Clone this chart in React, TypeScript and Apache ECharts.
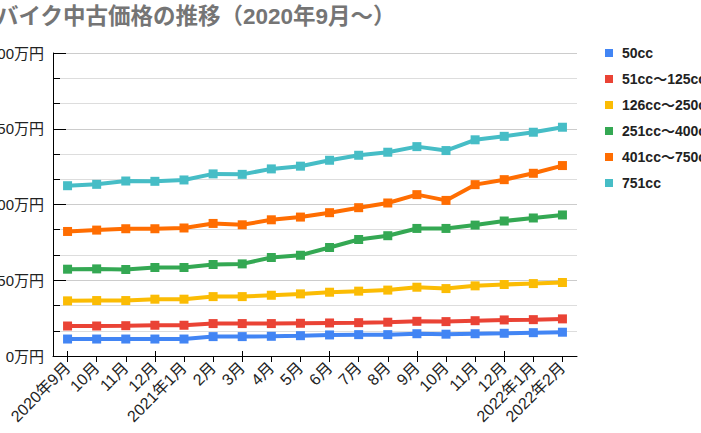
import React, { useEffect, useRef } from "react";
import * as echarts from "echarts";

const categories = [
  "2020年9月", "10月", "11月", "12月", "2021年1月", "2月", "3月", "4月", "5月",
  "6月", "7月", "8月", "9月", "10月", "11月", "12月", "2022年1月", "2022年2月",
];

const seriesNames = ["50cc", "51cc～125cc", "126cc～250cc", "251cc～400cc", "401cc～750cc", "751cc"];
const seriesColors = ["#4285F4", "#EA4335", "#FBBC04", "#34A853", "#FF6D01", "#46BDC6"];

const cc50 = [11.2, 11.2, 11.2, 11.2, 11.2, 12.8, 12.8, 13.0, 13.4, 13.9, 14.1, 14.1, 14.7, 14.4, 14.7, 15.0, 15.4, 15.7];
const cc125 = [19.8, 19.8, 20.0, 20.3, 20.3, 21.4, 21.4, 21.4, 21.6, 21.8, 22.0, 22.3, 22.9, 22.7, 23.3, 23.8, 24.0, 24.5];
const cc250 = [36.4, 36.6, 36.6, 37.5, 37.5, 39.2, 39.2, 40.1, 41.0, 42.1, 42.8, 43.5, 45.4, 44.5, 46.3, 47.2, 47.8, 48.5];
const cc400 = [57.3, 57.5, 57.1, 58.4, 58.4, 60.4, 60.8, 65.0, 66.5, 71.6, 76.9, 79.4, 84.2, 84.2, 86.4, 89.1, 91.1, 93.1];
const cc750 = [82.2, 83.1, 84.0, 84.0, 84.5, 87.5, 86.6, 89.9, 91.7, 94.6, 97.9, 101.0, 106.5, 102.7, 113.1, 116.4, 120.6, 125.7];
const cc751 = [112.4, 113.3, 115.5, 115.3, 116.2, 120.2, 119.9, 123.5, 125.3, 129.2, 132.5, 134.5, 138.2, 135.6, 142.7, 145.0, 147.7, 151.0];

const seriesData = [cc50, cc125, cc250, cc400, cc750, cc751];

const FONT = "'Liberation Sans', Arial, 'Noto Sans CJK JP', sans-serif";

export default function App() {
  const ref = useRef<HTMLDivElement>(null);
  useEffect(() => {
    if (!ref.current) return;
    const chart = echarts.init(ref.current, undefined, { renderer: "svg" });
    chart.setOption({
      animation: false,
      backgroundColor: "#ffffff",
      title: {
        text: "バイク中古価格の推移（2020年9月～）",
        left: -9,
        top: 0,
        textStyle: { fontFamily: FONT, fontSize: 22.5, fontWeight: "bold", color: "#757575" },
      },
      legend: {
        orient: "vertical",
        left: 600,
        top: 41,
        itemWidth: 8,
        itemHeight: 8,
        itemGap: 12,
        icon: "rect",
        data: seriesNames,
        textStyle: { fontFamily: FONT, fontSize: 14, fontWeight: "bold", color: "#222222", padding: [0, 0, 0, 4] },
      },
      grid: { left: 53, right: 124, top: 53, bottom: 77, containLabel: false, outerBoundsMode: "none" },
      xAxis: [
        {
          type: "category",
          data: categories,
          boundaryGap: true,
          axisLine: { show: true, lineStyle: { color: "#000000", width: 1 } },
          axisTick: { show: true, alignWithLabel: true, length: 6, lineStyle: { color: "#000000" } },
          axisLabel: { interval: 0, rotate: 45, margin: 9, fontFamily: FONT, fontSize: 16, color: "#222222" },
          splitLine: { show: false },
        },
        {
          type: "category",
          data: categories,
          boundaryGap: true,
          position: "bottom",
          axisLine: { show: false },
          axisTick: { show: true, inside: true, alignWithLabel: true, length: 5, lineStyle: { color: "#000000" } },
          axisLabel: { show: false },
          splitLine: { show: false },
        },
      ],
      yAxis: {
        type: "value",
        min: 0,
        max: 200,
        interval: 50,
        axisLine: { show: true, lineStyle: { color: "#000000", width: 1 } },
        axisTick: { show: true, inside: true, length: 13, lineStyle: { color: "#000000" } },
        minorTick: { show: true, splitNumber: 3, length: 7, lineStyle: { color: "#000000" } },
        splitLine: { show: true, lineStyle: { color: "#cccccc", width: 1 } },
        minorSplitLine: { show: true, lineStyle: { color: "#dddddd", width: 1 } },
        axisLabel: {
          margin: 9,
          fontFamily: FONT,
          fontSize: 15,
          color: "#222222",
          formatter: (v: number) => `${v}万円`,
        },
      },
      series: seriesNames.map((name, i) => ({
        name,
        type: "line",
        data: seriesData[i],
        xAxisIndex: 0,
        color: seriesColors[i],
        symbol: "rect",
        symbolSize: 9,
        showSymbol: true,
        lineStyle: { width: 4, color: seriesColors[i] },
        itemStyle: { color: seriesColors[i] },
        z: 2 + i,
      })),
    });
    return () => chart.dispose();
  }, []);
  return (
    <div
      ref={ref}
      style={{ position: "absolute", left: 0, top: 0, width: 701, height: 433, overflow: "hidden" }}
    />
  );
}
